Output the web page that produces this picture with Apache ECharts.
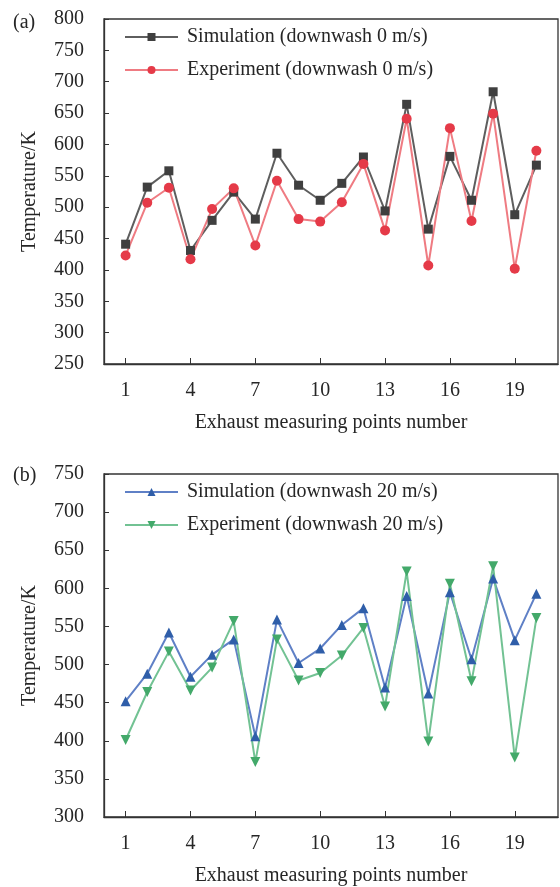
<!DOCTYPE html>
<html>
<head>
<meta charset="utf-8">
<script src="https://cdn.jsdelivr.net/npm/echarts@6/dist/echarts.min.js"></script>
<style>html,body{margin:0;padding:0;background:#fff}#c{width:560px;height:887px}</style>
</head>
<body>
<div id="c"></div>
<script>
const points = [1,2,3,4,5,6,7,8,9,10,11,12,13,14,15,16,17,18,19,20];
const xTickLabels = [1,4,7,10,13,16,19];
const simA = [441,532,558,431,479,524,481,586,535,511,538,580,494,664,465,581,511,684,488,567];
const expA = [423,507,531,417,497,530,439,542,481,477,508,569,463,641,407,626,478,649,402,590];
const simB = [452,488,542,484,513,533,406,559,502,521,552,574,470,590,462,595,507,613,532,593];
const expB = [401,464,517,466,496,557,372,533,479,489,512,548,445,622,399,606,478,629,378,561];
const namesA = ['Simulation (downwash 0 m/s)','Experiment (downwash 0 m/s)'];
const namesB = ['Simulation (downwash 20 m/s)','Experiment (downwash 20 m/s)'];
const yTicksA = {min:250,max:800,interval:50};
const yTicksB = {min:300,max:750,interval:50};

const FONT = '"Liberation Serif","DejaVu Serif",serif';
const TXT = '#262626';
const pair = arr => points.map((p,i)=>[p,arr[i]]);

function xAxis(gi){
  return {
    type:'value', gridIndex:gi, min:0, max:21,
    name:'Exhaust measuring points number', nameLocation:'middle', nameGap:49,
    nameTextStyle:{fontFamily:FONT,fontSize:20,color:TXT},
    axisLine:{lineStyle:{color:'#333',width:1.3}},
    axisTick:{inside:true,length:6,customValues:xTickLabels,lineStyle:{color:'#333'}},
    axisLabel:{customValues:xTickLabels,margin:17,fontFamily:FONT,fontSize:20,color:TXT},
    splitLine:{show:false}
  };
}
function yAxis(gi,t){
  return {
    type:'value', gridIndex:gi, min:t.min, max:t.max, interval:t.interval,
    name:'Temperature/K', nameLocation:'middle', nameGap:64,
    nameTextStyle:{fontFamily:FONT,fontSize:20,color:TXT},
    axisLine:{show:true,lineStyle:{color:'#333',width:1.3}},
    axisTick:{show:true,inside:true,length:5,lineStyle:{color:'#333'}},
    axisLabel:{margin:20,fontFamily:FONT,fontSize:20,color:TXT},
    splitLine:{show:false}
  };
}
function ser(name,data,gi,symbol,rot,lineColor,markColor,size){
  return {
    type:'line', name, xAxisIndex:gi, yAxisIndex:gi, data:pair(data),
    symbol, symbolRotate:rot, symbolSize:size, showAllSymbol:true,
    lineStyle:{color:lineColor,width:2},
    itemStyle:{color:markColor,borderWidth:0},
    emphasis:{disabled:true}, z: 3
  };
}
const legendBase = {
  orient:'vertical', left:119, itemWidth:53, itemHeight:10, itemGap:13,
  textStyle:{fontFamily:FONT,fontSize:20,color:TXT,padding:[0,0,0,4]}
};
const chart = echarts.init(document.getElementById('c'),null,{renderer:'canvas'});
chart.setOption({
  animation:false,
  backgroundColor:'#fff',
  grid:[
    {left:104,right:2,top:19,height:345,show:true,borderColor:'#333',borderWidth:1.3,backgroundColor:'transparent'},
    {left:104,right:2,top:474,height:345,show:true,borderColor:'#333',borderWidth:1.3,backgroundColor:'transparent'}
  ],
  xAxis:[xAxis(0),xAxis(1)],
  yAxis:[yAxis(0,yTicksA),yAxis(1,yTicksB)],
  legend:[
    Object.assign({},legendBase,{top:22,data:namesA}),
    Object.assign({},legendBase,{top:477,data:namesB})
  ],
  graphic:[
    {type:'text',left:13,top:13,style:{text:'(a)',font:'20px '+FONT,fill:TXT}},
    {type:'text',left:13,top:466,style:{text:'(b)',font:'20px '+FONT,fill:TXT}}
  ],
  series:[
    ser(namesA[0],simA,0,'rect',0,'#5e5e5e','#3f3f3f',9),
    ser(namesA[1],expA,0,'circle',0,'#ef7b82','#e53a48',10),
    ser(namesB[0],simB,1,'triangle',0,'#5f80c6','#2f5ea9',10),
    ser(namesB[1],expB,1,'triangle',180,'#72c293','#43a96a',10)
  ]
});
</script>
</body>
</html>
